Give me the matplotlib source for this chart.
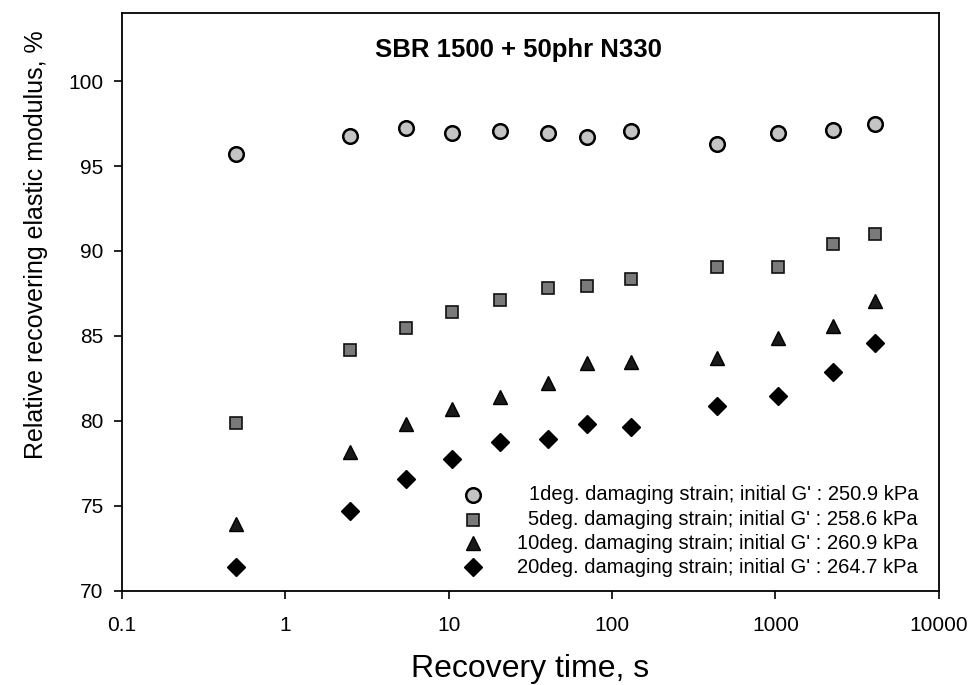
import matplotlib
matplotlib.use("Agg")
import matplotlib.pyplot as plt
from matplotlib.ticker import FixedLocator, NullLocator

plt.rcParams['font.family'] = ['Liberation Sans', 'DejaVu Sans']

# ---- data ----
recovery_time = [0.5, 2.5, 5.5, 10.5, 20.5, 40.5, 70.5, 130, 440, 1040, 2240, 4040]
strain_1deg = [95.70, 96.78, 97.22, 96.96, 97.06, 96.92, 96.72, 97.08, 96.29, 96.96, 97.12, 97.45]
strain_5deg = [79.85, 84.17, 85.48, 86.40, 87.11, 87.80, 87.93, 88.33, 89.03, 89.03, 90.41, 91.03]
strain_10deg = [73.91, 78.18, 79.81, 80.71, 81.42, 82.21, 83.42, 83.48, 83.68, 84.86, 85.58, 87.07]
strain_20deg = [71.38, 74.71, 76.56, 77.73, 78.73, 78.93, 79.81, 79.62, 80.89, 81.48, 82.85, 84.60]

labels = [
    "1deg. damaging strain; initial G' : 250.9 kPa",
    "5deg. damaging strain; initial G' : 258.6 kPa",
    "10deg. damaging strain; initial G' : 260.9 kPa",
    "20deg. damaging strain; initial G' : 264.7 kPa",
]
x_ticks = [0.1, 1, 10, 100, 1000, 10000]
x_tick_labels = ["0.1", "1", "10", "100", "1000", "10000"]
y_ticks = [70, 75, 80, 85, 90, 95, 100]
title = "SBR 1500 + 50phr N330"

# ---- styles ----
styles = [
    dict(marker='o', ms=10.5, mfc='#c4c4c4', mec='black', mew=1.8),
    dict(marker='s', ms=9.2, mfc='#7a7a7a', mec='#111111', mew=1.2),
    dict(marker='^', ms=10.5, mfc='#1a1a1a', mec='black', mew=1.0),
    dict(marker='D', ms=9, mfc='black', mec='black', mew=1.0),
]

fig = plt.figure(figsize=(9.76, 6.85), dpi=100)
ax = fig.add_axes([0.1247, 0.1377, 0.8373, 0.843])

series = [strain_1deg, strain_5deg, strain_10deg, strain_20deg]
for ys, st in zip(series, styles):
    ax.plot(recovery_time, ys, linestyle='none', **st)

ax.set_xscale('log')
ax.set_xlim(0.1, 10000)
ax.set_ylim(70, 104)
ax.xaxis.set_major_locator(FixedLocator(x_ticks))
ax.set_xticklabels(x_tick_labels)
ax.xaxis.set_minor_locator(NullLocator())
ax.set_yticks(y_ticks)
ax.tick_params(axis='both', direction='out', length=6, width=1.2, labelsize=15)
ax.tick_params(axis='x', pad=12)
ax.tick_params(axis='y', pad=7)
for sp in ax.spines.values():
    sp.set_linewidth(1.3)

ax.set_xlabel("Recovery time, s", fontsize=23, labelpad=14)
ax.set_ylabel("Relative recovering elastic modulus, %", fontsize=18, labelpad=8)
ax.yaxis.set_label_coords(-0.09, 0.6)

ax.text(0.485, 0.937, title, transform=ax.transAxes, ha='center', va='center',
        fontsize=18.5, fontweight='bold')

# manual legend with right-aligned text
leg_y = [0.1657, 0.1225, 0.0818, 0.0402]
for st, lab, yy in zip(styles, labels, leg_y):
    ax.plot([0.430], [yy], transform=ax.transAxes, linestyle='none', clip_on=False, **st)
    ax.text(0.9745, yy, lab, transform=ax.transAxes, ha='right', va='center', fontsize=14.5)

fig.savefig("out.png", dpi=100)
